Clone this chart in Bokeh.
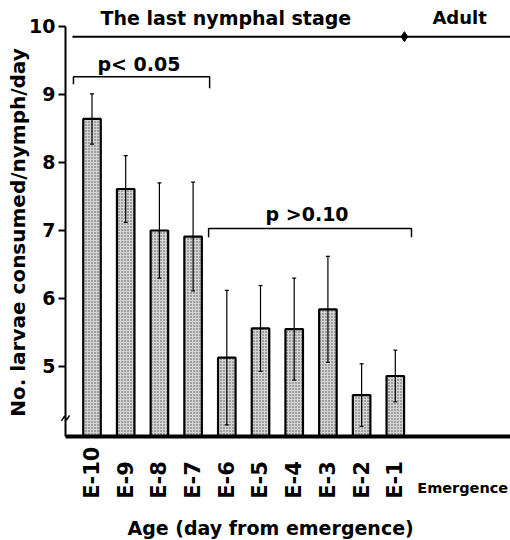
import numpy as np
from bokeh.plotting import figure
from bokeh.models import ColumnDataSource, Whisker, Label, FixedTicker, TeeHead, Range1d
from bokeh.embed import file_html
from bokeh.resources import INLINE

# ---- data ----
ages = ["E-10", "E-9", "E-8", "E-7", "E-6", "E-5", "E-4", "E-3", "E-2", "E-1"]
means = [8.64, 7.61, 7.00, 6.91, 5.13, 5.56, 5.55, 5.84, 4.58, 4.86]
errors = [0.37, 0.49, 0.70, 0.80, 0.99, 0.63, 0.75, 0.78, 0.46, 0.38]
y_ticks = [5, 6, 7, 8, 9, 10]
emergence_pos = 9.27
stage_labels = ["The last nymphal stage", "Adult"]
sig_labels = ["p< 0.05", "p >0.10"]

FONT = "DejaVu Sans"
y0 = 3.97
x0 = -0.786

xs = list(range(len(ages)))
src = ColumnDataSource(dict(
    x=xs, mean=means,
    upper=[m + e for m, e in zip(means, errors)],
    lower=[m - e for m, e in zip(means, errors)],
))

p = figure(width=510, height=540, output_backend="svg", toolbar_location=None,
           x_range=Range1d(-2.715, 12.418), y_range=Range1d(2.441, 10.382),
           min_border=0)
p.outline_line_color = None
p.grid.visible = False
p.background_fill_color = "white"

p.vbar(x="x", top="mean", bottom=y0, width=0.52, source=src,
       fill_color="#d4d4d4", line_color="black", line_width=2.2,
       hatch_pattern="dot", hatch_color="#505050", hatch_scale=3, hatch_weight=1)

w = Whisker(base="x", upper="upper", lower="lower", source=src,
            line_color="black", line_width=1.2, level="overlay",
            upper_head=TeeHead(size=4, line_width=1.2, line_color="black"),
            lower_head=TeeHead(size=4, line_width=1.2, line_color="black"))
p.add_layout(w)

# stage line
p.line([-0.58, 12.42], [9.85, 9.85], line_color="black", line_width=2)
p.scatter([emergence_pos], [9.85], marker="diamond", size=10, color="black")

# significance brackets
p.line([-0.55, -0.55, 3.49, 3.49], [9.15, 9.26, 9.26, 9.09], line_color="black", line_width=1.5)
p.line([3.46, 3.46, 9.48, 9.48], [6.9, 7.03, 7.03, 6.9], line_color="black", line_width=1.5)

# axis break mark
p.line([x0 - 0.12, x0 - 0.03, x0 + 0.03, x0 + 0.12], [4.20, 4.27, 4.21, 4.28],
       line_color="black", line_width=1.5)

def lab(x, y, t, size, align="left", angle=0):
    p.add_layout(Label(x=x, y=y, text=t, text_font=FONT, text_font_style="bold",
                       text_font_size=f"{size}px", text_align=align,
                       text_baseline="middle", angle=angle, text_color="black"))

lab(0.25, 10.13, stage_labels[0], 19)
lab(10.1, 10.13, stage_labels[1], 18)
lab(0.16, 9.45, sig_labels[0], 19)
lab(5.15, 7.24, sig_labels[1], 19)
lab(11.0, 3.206, "Emergence", 14.5, align="center")
lab(5.3, 2.63, "Age (day from emergence)", 19, align="center")
lab(-2.21, 6.97, "No. larvae consumed/nymph/day", 20, align="center", angle=np.pi / 2)

# axes
ya = p.yaxis[0]
ya.fixed_location = x0
ya.ticker = FixedTicker(ticks=y_ticks)
ya.bounds = (y0, 10)
ya.axis_line_width = 2
ya.major_tick_line_width = 2
ya.major_tick_out = 7
ya.major_tick_in = 0
ya.minor_tick_line_color = None
ya.major_label_standoff = 3
ya.major_label_text_font = FONT
ya.major_label_text_font_style = "bold"
ya.major_label_text_font_size = "19px"
ya.major_label_text_color = "black"

# pad shorter labels with figure spaces so all labels end at the same baseline
longest = max(len(a) for a in ages)
xa = p.xaxis[0]
xa.fixed_location = y0
xa.ticker = FixedTicker(ticks=xs)
xa.bounds = (x0, 12.418)
xa.major_label_overrides = {i: a + "\u2007" * (longest - len(a)) for i, a in enumerate(ages)}
xa.major_label_orientation = np.pi / 2
xa.axis_line_width = 4
xa.major_tick_line_color = None
xa.minor_tick_line_color = None
xa.major_tick_out = 0
xa.major_tick_in = 0
xa.major_label_standoff = 10
xa.major_label_text_font = FONT
xa.major_label_text_font_style = "bold"
xa.major_label_text_font_size = "21px"
xa.major_label_text_color = "black"

open("out.html", "w").write(file_html(p, INLINE))
